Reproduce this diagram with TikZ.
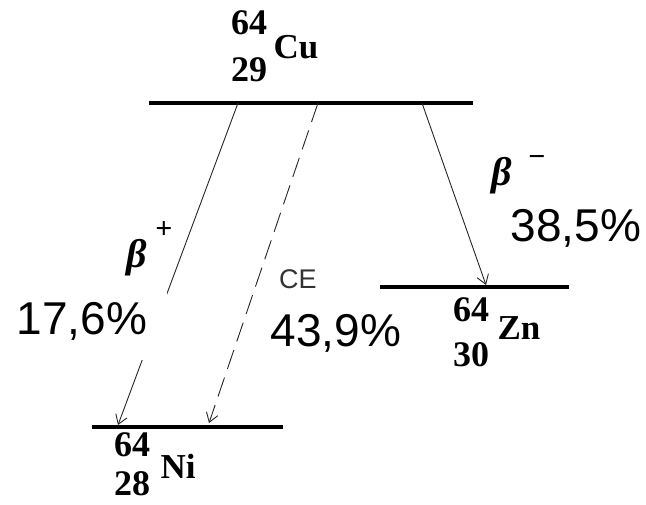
\documentclass[tikz,border=0pt]{standalone}
\usepackage{fontspec}
\setmainfont{Liberation Serif}
\newfontfamily\pctfont{Liberation Sans}
\usetikzlibrary{arrows.meta}
\begin{document}
\begin{tikzpicture}[x=1pt,y=-1pt,
  level/.style={line width=3.2pt},
  trans/.style={line width=0.9pt,draw=black!85,-{Straight Barb[length=9pt,width=12pt,line width=0.9pt]}},
  num/.style={font=\fontsize{36}{36}\selectfont\bfseries,inner sep=0pt},
  sym/.style={font=\fontsize{35}{35}\selectfont\bfseries,inner sep=0pt},
  greek/.style={font=\fontsize{40}{40}\selectfont\bfseries\itshape,inner sep=0pt},
  sign/.style={font=\fontsize{30}{30}\selectfont\bfseries,inner sep=0pt},
  pct/.style={font=\fontsize{46}{46}\pctfont,fill=white,inner sep=0pt},
  small/.style={font=\fontsize{27}{27}\pctfont,text=black!80,inner sep=0pt}]
\useasboundingbox[fill=white] (0,0) rectangle (646,504);
% levels
\coordinate (cuL) at (149,103); \coordinate (cuR) at (473,103);
\coordinate (znL) at (380,287); \coordinate (znR) at (569,287);
\coordinate (niL) at (92,427);  \coordinate (niR) at (283,427);
\draw[level] (cuL) -- (cuR);
\draw[level] (znL) -- (znR);
\draw[level] (niL) -- (niR);
% transitions
\coordinate (bpS) at (238,103); \coordinate (bpE) at (118,425);
\coordinate (ceS) at (318,103); \coordinate (ceE) at (209,423);
\coordinate (bmS) at (422,103); \coordinate (bmE) at (486,285);
\draw[trans] (bpS) -- (bpE);
\draw[trans,dash pattern=on 20pt off 9pt] (ceS) -- (ceE);
\draw[trans] (bmS) -- (bmE);
% nuclide labels
\node[num] (cuA) at (249,23) {64};
\node[num] (cuZ) at (249,70) {29};
\node[sym] (cu) at (296,47) {Cu};
\node[num] (znA) at (471,310) {64};
\node[num] (znZ) at (471,355) {30};
\node[sym] (zn) at (519,328) {Zn};
\node[num] (niA) at (132,445) {64};
\node[num] (niZ) at (132,484) {28};
\node[sym] (ni) at (178,466) {Ni};
% decay labels
\node[greek] (bp) at (137,258) {β};
\node[sign] (bpsign) at (164,230) {+};
\node[greek] (bm) at (502,176) {β};
\node[sign] (bmsign) at (537,161) {−};
\node[small] (ce) at (298,279) {CE};
% percentages on white patches
\node[pct,minimum width=170pt,minimum height=78pt] (p1) at (82,321) {17,6\%};
\node[pct,minimum width=160pt,minimum height=75pt] (p2) at (336,333) {43,9\%};
\node[pct,minimum width=157pt,minimum height=85pt] (p3) at (576,228) {38,5\%};
\end{tikzpicture}
\end{document}
